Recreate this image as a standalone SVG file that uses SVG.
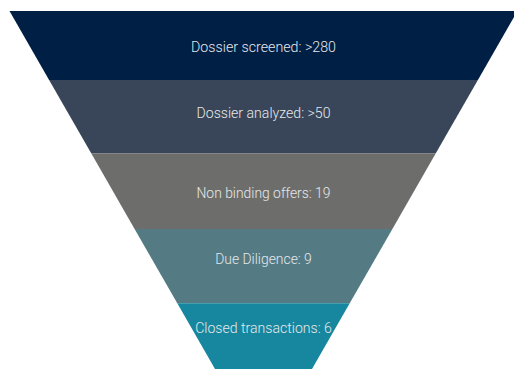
<svg xmlns="http://www.w3.org/2000/svg" width="514" height="369" viewBox="0 0 514 369">
  <style>
    .lbl { font-family: Roboto, "Liberation Sans", "DejaVu Sans", sans-serif; font-size: 15px; font-weight: 300; fill: #E6E8EA; text-anchor: middle; }
  </style>
  <rect x="0" y="0" width="514" height="369" fill="#FFFFFF"/>
  <g id="stage1">
    <polygon points="9.5,11 517.5,11 477.9,80 49.1,80" fill="#001F45"/>
    <text class="lbl" x="263.5" y="52.3" textLength="145" lengthAdjust="spacingAndGlyphs">Dossier screened: &gt;280</text>
  </g>
  <g id="stage2">
    <polygon points="49.1,80 477.9,80 435.8,153.3 91.2,153.3" fill="#394659"/>
    <text class="lbl" x="263.5" y="118.3" textLength="134" lengthAdjust="spacingAndGlyphs">Dossier analyzed: &gt;50</text>
  </g>
  <g id="stage3">
    <polygon points="91.2,153.3 435.8,153.3 392.4,229 134.6,229" fill="#6D6E6C"/>
    <text class="lbl" x="263.5" y="198.3" textLength="134" lengthAdjust="spacingAndGlyphs">Non binding offers: 19</text>
  </g>
  <g id="stage4">
    <polygon points="134.6,229 392.4,229 349.7,303.3 177.3,303.3" fill="#547A84"/>
    <text class="lbl" x="263.5" y="264.3" textLength="96.7" lengthAdjust="spacingAndGlyphs">Due Diligence: 9</text>
  </g>
  <g id="stage5">
    <polygon points="177.3,303.3 349.7,303.3 312,369 215,369" fill="#17879F"/>
    <text class="lbl" x="263.5" y="333.3" textLength="136.7" lengthAdjust="spacingAndGlyphs">Closed transactions: 6</text>
  </g>
  <g id="connectors"/>
</svg>
